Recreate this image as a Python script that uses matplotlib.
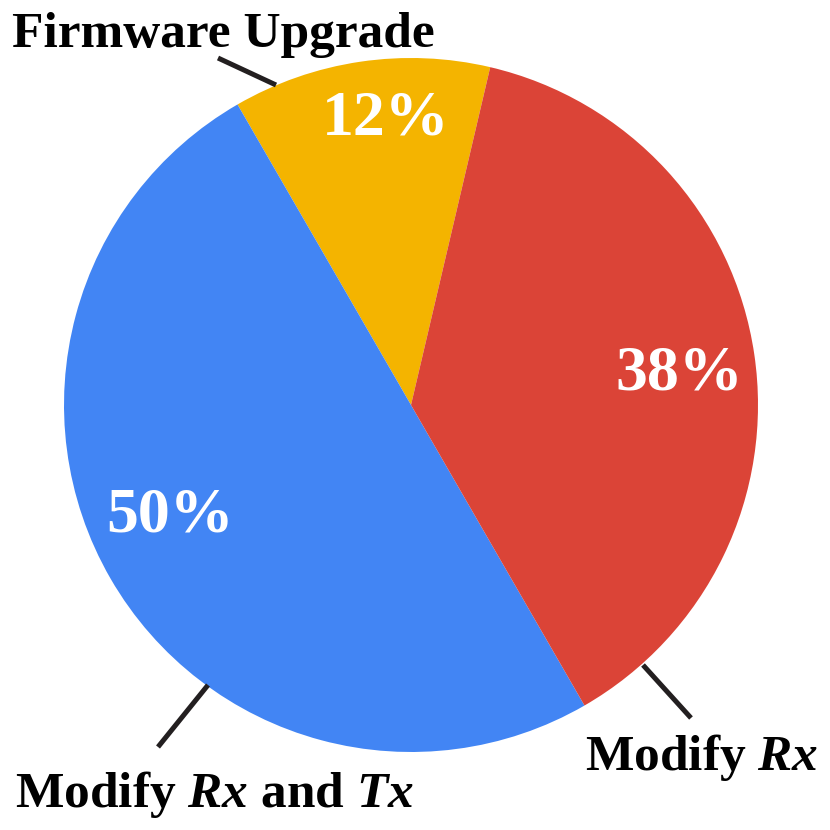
import matplotlib.pyplot as plt

plt.rcParams['font.family'] = 'Liberation Serif'
plt.rcParams['font.weight'] = 'bold'
plt.rcParams['mathtext.fontset'] = 'custom'
plt.rcParams['mathtext.bfit'] = 'Liberation Serif:italic:bold'

# slices, counter-clockwise from the top right edge
labels = ['Firmware Upgrade',
          r'Modify $\mathbfit{Rx}$ and $\mathbfit{Tx}$',
          r'Modify $\mathbfit{Rx}$']
shares = [12, 50, 38]
colors = ['#F4B400', '#4285F4', '#DB4437']

SIZE = 830
CX, CY, R = 411, 405, 347  # pie centre / radius in pixels


def px(x, y):
    # pixel (from top left) -> data coords of the pie
    return (x - CX) / R, (CY - y) / R


fig = plt.figure(figsize=(8.3, 8.3), dpi=100)
ax = fig.add_axes([0, 0, 1, 1])

wedges, _, pcts = ax.pie(shares, colors=colors, startangle=76.8,
                         autopct='%.0f%%', radius=1,
                         wedgeprops=dict(linewidth=0),
                         textprops=dict(color='white', fontsize=46,
                                        fontweight='bold'))

# percentage labels (centre x, baseline y)
pct_pos = [(386, 135), (170, 532), (679, 390)]
for t, p in zip(pcts, pct_pos):
    t.set_position(px(*p))
    t.set_ha('center')
    t.set_va('baseline')

# outside labels + leader lines
label_pos = [(12, 47), (15, 807), (585, 770)]
leaders = [((276, 85), (218, 58)),
           ((208, 685), (158, 747)),
           ((643, 665), (691, 718))]
for lab, p, (a, b) in zip(labels, label_pos, leaders):
    x, y = px(*p)
    ax.text(x, y, lab, fontsize=37, fontweight='bold', color='black',
            ha='left', va='baseline')
    (x0, y0), (x1, y1) = px(*a), px(*b)
    ax.plot([x0, x1], [y0, y1], color='#231F20', lw=3.6,
            solid_capstyle='butt')

ax.set_xlim(px(0, 0)[0], px(SIZE, 0)[0])
ax.set_ylim(px(0, SIZE)[1], px(0, 0)[1])
ax.axis('off')

plt.savefig('out.png', dpi=100)
